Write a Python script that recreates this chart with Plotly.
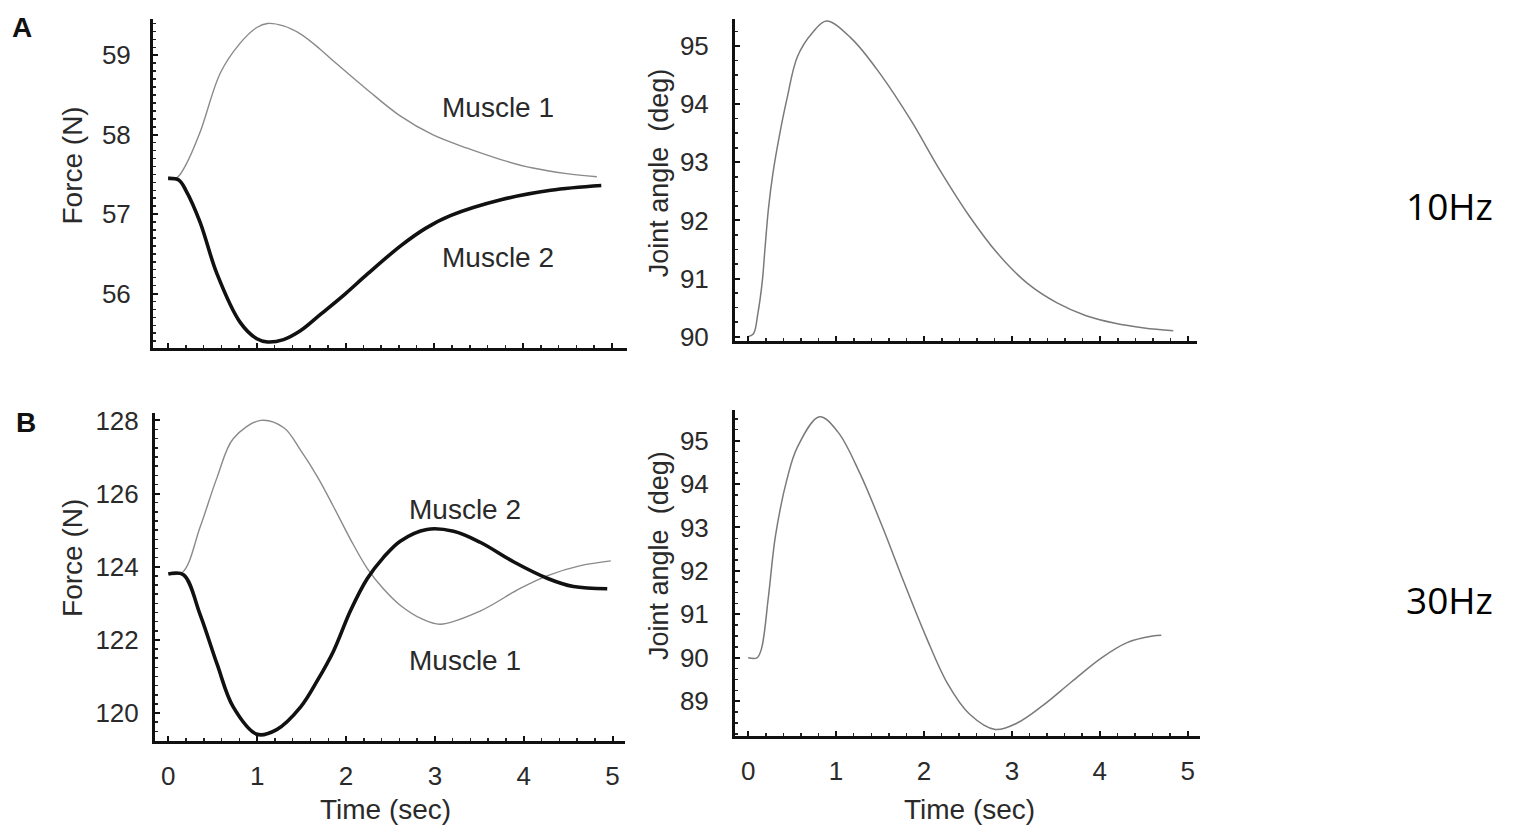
import plotly.graph_objects as go

W, H = 1513, 839

# ---------------- data ----------------
# Panel A (10 Hz) - muscle forces
tA_m1 = [0, 0.1, 0.2, 0.36, 0.59, 0.81, 1.0, 1.12, 1.3, 1.49, 1.71, 1.86, 2.24, 2.61, 2.98, 3.37, 3.74, 4.11, 4.49, 4.83]
fA_m1 = [57.45, 57.46, 57.62, 58.03, 58.78, 59.15, 59.35, 59.40, 59.37, 59.27, 59.08, 58.93, 58.57, 58.24, 58.0, 57.83, 57.69, 57.58, 57.51, 57.47]
tA_m2 = [0, 0.12, 0.2, 0.36, 0.55, 0.81, 1.0, 1.12, 1.3, 1.49, 1.72, 2.0, 2.25, 2.62, 2.9, 3.18, 3.75, 4.31, 4.88]
fA_m2 = [57.45, 57.43, 57.3, 56.9, 56.25, 55.64, 55.43, 55.39, 55.42, 55.53, 55.74, 56.0, 56.25, 56.6, 56.82, 56.98, 57.18, 57.3, 57.36]

# Panel A (10 Hz) - joint angle
tA_ang = [0, 0.06, 0.11, 0.16, 0.19, 0.23, 0.28, 0.35, 0.44, 0.56, 0.73, 0.89, 1.18, 1.51, 1.85, 2.18, 2.51, 2.84, 3.17, 3.51, 3.84, 4.17, 4.5, 4.83]
aA = [90.0, 90.05, 90.4, 90.95, 91.5, 92.2, 92.8, 93.42, 94.09, 94.82, 95.23, 95.43, 95.12, 94.5, 93.72, 92.86, 92.08, 91.42, 90.92, 90.58, 90.36, 90.23, 90.15, 90.1]

# Panel B (30 Hz) - muscle forces
tB_m1 = [0, 0.16, 0.36, 0.55, 0.73, 1.04, 1.3, 1.49, 1.68, 1.86, 2.05, 2.24, 2.42, 2.61, 2.85, 3.06, 3.51, 3.96, 4.27, 4.64, 4.98]
fB_m1 = [123.8, 123.85, 125.1, 126.45, 127.5, 128.0, 127.8, 127.18, 126.45, 125.64, 124.75, 123.95, 123.4, 122.95, 122.58, 122.43, 122.79, 123.41, 123.76, 124.03, 124.16]
tB_m2 = [0, 0.17, 0.36, 0.55, 0.73, 1.0, 1.22, 1.49, 1.68, 1.86, 2.05, 2.24, 2.42, 2.61, 2.91, 3.21, 3.51, 3.89, 4.27, 4.56, 4.94]
fB_m2 = [123.8, 123.78, 122.68, 121.33, 120.17, 119.42, 119.55, 120.17, 120.9, 121.7, 122.8, 123.68, 124.25, 124.7, 125.02, 124.97, 124.67, 124.13, 123.68, 123.46, 123.4]

# Panel B (30 Hz) - joint angle
tB_ang = [0, 0.1, 0.15, 0.23, 0.31, 0.44, 0.56, 0.81, 1.02, 1.27, 1.52, 1.77, 2.02, 2.27, 2.52, 2.81, 3.06, 3.35, 3.68, 4.02, 4.31, 4.6, 4.7]
aB = [90.0, 90.0, 90.2, 91.4, 92.8, 94.1, 94.85, 95.55, 95.2, 94.25, 93.05, 91.75, 90.5, 89.4, 88.7, 88.35, 88.5, 88.9, 89.45, 90.0, 90.35, 90.5, 90.52]

time_ticks = [0, 1, 2, 3, 4, 5]
forceA_ticks = [56, 57, 58, 59]
angleA_ticks = [90, 91, 92, 93, 94, 95]
forceB_ticks = [120, 122, 124, 126, 128]
angleB_ticks = [89, 90, 91, 92, 93, 94, 95]

# ---------------- figure ----------------
FONT = "Liberation Sans, Arial, Helvetica, sans-serif"
TXT = "#2a2a2a"
THIN = dict(color="#8a8a8a", width=1.4, shape="spline", smoothing=1.0)
THICK = dict(color="#111111", width=3.6, shape="spline", smoothing=1.0)
ANG = dict(color="#7a7a7a", width=1.5, shape="spline", smoothing=1.0)

fig = go.Figure()
fig.add_trace(go.Scatter(x=tA_m1, y=fA_m1, mode="lines", line=THIN, xaxis="x", yaxis="y"))
fig.add_trace(go.Scatter(x=tA_m2, y=fA_m2, mode="lines", line=THICK, xaxis="x", yaxis="y"))
fig.add_trace(go.Scatter(x=tA_ang, y=aA, mode="lines", line=ANG, xaxis="x2", yaxis="y2"))
fig.add_trace(go.Scatter(x=tB_m1, y=fB_m1, mode="lines", line=THIN, xaxis="x3", yaxis="y3"))
fig.add_trace(go.Scatter(x=tB_m2, y=fB_m2, mode="lines", line=THICK, xaxis="x3", yaxis="y3"))
fig.add_trace(go.Scatter(x=tB_ang, y=aB, mode="lines", line=ANG, xaxis="x4", yaxis="y4"))


def px_x(p):
    return p / W


def px_y(p):
    return 1 - p / H


def xax(domain, rng, anchor, labels):
    return dict(
        domain=domain, range=rng, anchor=anchor,
        showline=True, linewidth=3, linecolor="#111", mirror=False,
        showgrid=False, zeroline=False,
        tickmode="array", tickvals=time_ticks, ticktext=[str(v) for v in time_ticks],
        showticklabels=labels,
        ticks="inside", ticklen=5, tickwidth=2, tickcolor="#111",
        minor=dict(ticks="inside", dtick=0.2, ticklen=3, tickwidth=1.5, tickcolor="#222"),
        tickfont=dict(family=FONT, size=26, color=TXT),
        ticklabelstandoff=10,
        fixedrange=True,
    )


def yax(domain, rng, anchor, vals, mdt, standoff):
    return dict(
        domain=domain, range=rng, anchor=anchor,
        showline=True, linewidth=3, linecolor="#111", mirror=False,
        showgrid=False, zeroline=False,
        tickmode="array", tickvals=vals, ticktext=[str(v) for v in vals],
        ticks="inside", ticklen=5, tickwidth=2, tickcolor="#111",
        minor=dict(ticks="inside", dtick=mdt, ticklen=3, tickwidth=1.5, tickcolor="#222"),
        tickfont=dict(family=FONT, size=26, color=TXT),
        ticklabelstandoff=standoff,
        fixedrange=True,
    )


fig.update_layout(
    width=W, height=H,
    margin=dict(l=0, r=0, t=0, b=0),
    paper_bgcolor="white", plot_bgcolor="white",
    showlegend=False,
    xaxis=xax([px_x(153), px_x(627)], [-0.17, 5.17], "y", False),
    yaxis=yax([px_y(348), px_y(12)], [55.32, 59.46], "x", forceA_ticks, 0.1, 14),
    xaxis2=xax([px_x(735), px_x(1197)], [-0.15, 5.1], "y2", False),
    yaxis2=yax([px_y(341), px_y(12)], [89.93, 95.47], "x2", angleA_ticks, 0.25, 18),
    xaxis3=xax([px_x(155), px_x(625)], [-0.15, 5.14], "y3", True),
    yaxis3=yax([px_y(750), px_y(415)], [119.24, 128.2], "x3", forceB_ticks, 0.25, 8),
    xaxis4=xax([px_x(735), px_x(1200)], [-0.15, 5.14], "y4", True),
    yaxis4=yax([px_y(745), px_y(412)], [88.2, 95.7], "x4", angleB_ticks, 0.25, 18),
)


def ann(text, x, y, size=28, angle=0, bold=False, family=FONT, color=TXT):
    fig.add_annotation(
        text=f"<b>{text}</b>" if bold else text,
        x=px_x(x), y=px_y(y), xref="paper", yref="paper",
        xanchor="center", yanchor="middle", showarrow=False,
        textangle=angle, font=dict(family=family, size=size, color=color),
    )


# panel letters
ann("A", 22, 21, size=28, bold=True, color="#111")
ann("B", 26, 425, size=28, bold=True, color="#111")

# series labels
ann("Muscle 1", 498, 103)
ann("Muscle 2", 498, 256)
ann("Muscle 2", 465, 514)
ann("Muscle 1", 465, 668)

# axis titles
ann("Force (N)", 73, 162, angle=-90)
ann("Force (N)", 73, 563, angle=-90)
ann("Joint angle&nbsp;&nbsp;(deg)", 659, 170, size=27, angle=-90)
ann("Joint angle&nbsp;&nbsp;(deg)", 659, 561, size=27, angle=-90)
ann("Time (sec)", 385, 820)
ann("Time (sec)", 969, 820)

# frequency labels
ann("10Hz", 1449, 203, size=37, family="Open Sans, sans-serif", color="#000")
ann("30Hz", 1449, 605, size=37, family="Open Sans, sans-serif", color="#000")

fig.write_html(
    "out.html",
    config={"displayModeBar": False, "staticPlot": True},
    post_script="document.body.style.margin='0';document.body.style.overflow='hidden';",
)
